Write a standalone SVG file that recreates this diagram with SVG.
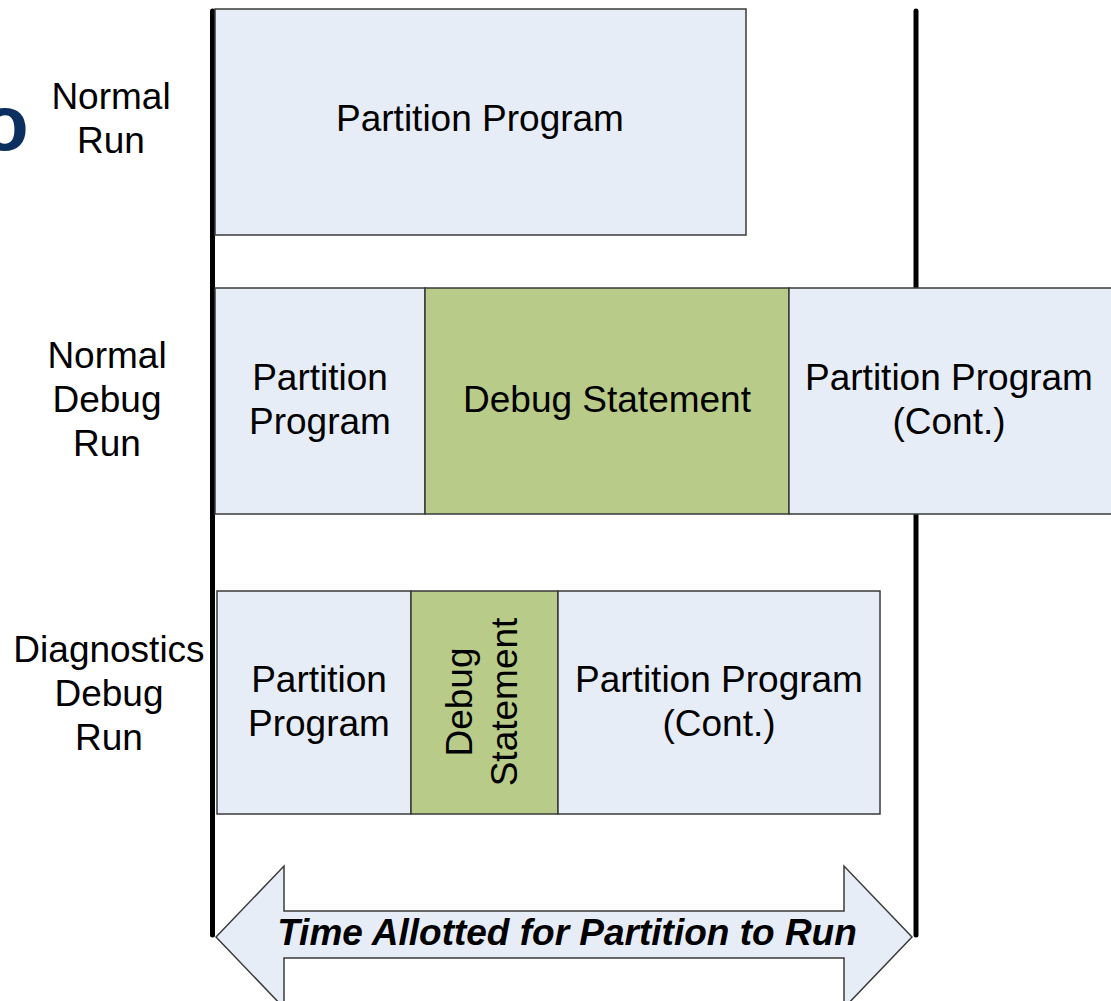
<svg xmlns="http://www.w3.org/2000/svg" width="1111" height="1001" viewBox="0 0 1111 1001">
  <style>
    .lbl { font-family: "Liberation Sans", Arial, sans-serif; font-size: 37px; fill: #000; text-anchor: middle; }
    .title { font-family: "Liberation Sans", Arial, sans-serif; font-size: 37px; font-weight: bold; font-style: italic; fill: #000; text-anchor: middle; }
    .prog { fill: #e7edf7; stroke: #3a3a3a; stroke-width: 1.5; }
    .dbg { fill: #b8cb88; stroke: #3a3a3a; stroke-width: 1.5; }
    .bound { stroke: #000; stroke-width: 5; stroke-linecap: round; fill: none; }
  </style>
  <rect width="1111" height="1001" fill="#fff"/>

  <!-- heading letter running off the left margin -->
  <text x="-19" y="150" font-family="Liberation Sans, Arial, sans-serif" font-size="78" font-weight="bold" fill="#0b2f5e">o</text>

  <!-- time window boundaries -->
  <g id="boundaries">
    <line class="bound" x1="212.5" y1="11" x2="212.5" y2="935"/>
    <line class="bound" x1="916" y1="11" x2="916" y2="935"/>
  </g>

  <!-- row labels -->
  <g id="label-normal-run">
    <text class="lbl" x="111" y="109">Normal</text>
    <text class="lbl" x="111" y="153">Run</text>
  </g>
  <g id="label-normal-debug-run">
    <text class="lbl" x="107" y="368">Normal</text>
    <text class="lbl" x="107" y="412">Debug</text>
    <text class="lbl" x="107" y="456">Run</text>
  </g>
  <g id="label-diagnostics-debug-run">
    <text class="lbl" x="109" y="662">Diagnostics</text>
    <text class="lbl" x="109" y="706">Debug</text>
    <text class="lbl" x="109" y="750">Run</text>
  </g>

  <!-- row 1: normal run -->
  <g id="normal-program">
    <rect class="prog" x="215" y="9" width="531" height="226"/>
    <text class="lbl" x="480" y="131">Partition Program</text>
  </g>

  <!-- row 2: normal debug run -->
  <g id="debug-program-a">
    <rect class="prog" x="215" y="288" width="210" height="226"/>
    <text class="lbl" x="320" y="390">Partition</text>
    <text class="lbl" x="320" y="434">Program</text>
  </g>
  <g id="debug-statement">
    <rect class="dbg" x="425" y="288" width="364" height="226"/>
    <text class="lbl" x="607" y="412">Debug Statement</text>
  </g>
  <g id="debug-program-b">
    <rect class="prog" x="789" y="288" width="330" height="226"/>
    <text class="lbl" x="949" y="390">Partition Program</text>
    <text class="lbl" x="949" y="434">(Cont.)</text>
  </g>

  <!-- row 3: diagnostics debug run -->
  <g id="diag-program-a">
    <rect class="prog" x="217" y="591" width="194" height="223"/>
    <text class="lbl" x="319" y="692">Partition</text>
    <text class="lbl" x="319" y="736">Program</text>
  </g>
  <g id="diag-statement">
    <rect class="dbg" x="411" y="591" width="147" height="223"/>
    <text class="lbl" transform="translate(472 702) rotate(-90)">Debug</text>
    <text class="lbl" transform="translate(517 702) rotate(-90)">Statement</text>
  </g>
  <g id="diag-program-b">
    <rect class="prog" x="558" y="591" width="322" height="223"/>
    <text class="lbl" x="719" y="692">Partition Program</text>
    <text class="lbl" x="719" y="736">(Cont.)</text>
  </g>

  <!-- allotted time span -->
  <g id="connectors">
    <polygon points="216,937 284,866 284,911 844,911 844,866 912,937 844,1008 844,958 284,958 284,1008" fill="#e7edf7" stroke="#3a3a3a" stroke-width="1.5"/>
    <text class="title" x="567" y="945">Time Allotted for Partition to Run</text>
  </g>
</svg>
